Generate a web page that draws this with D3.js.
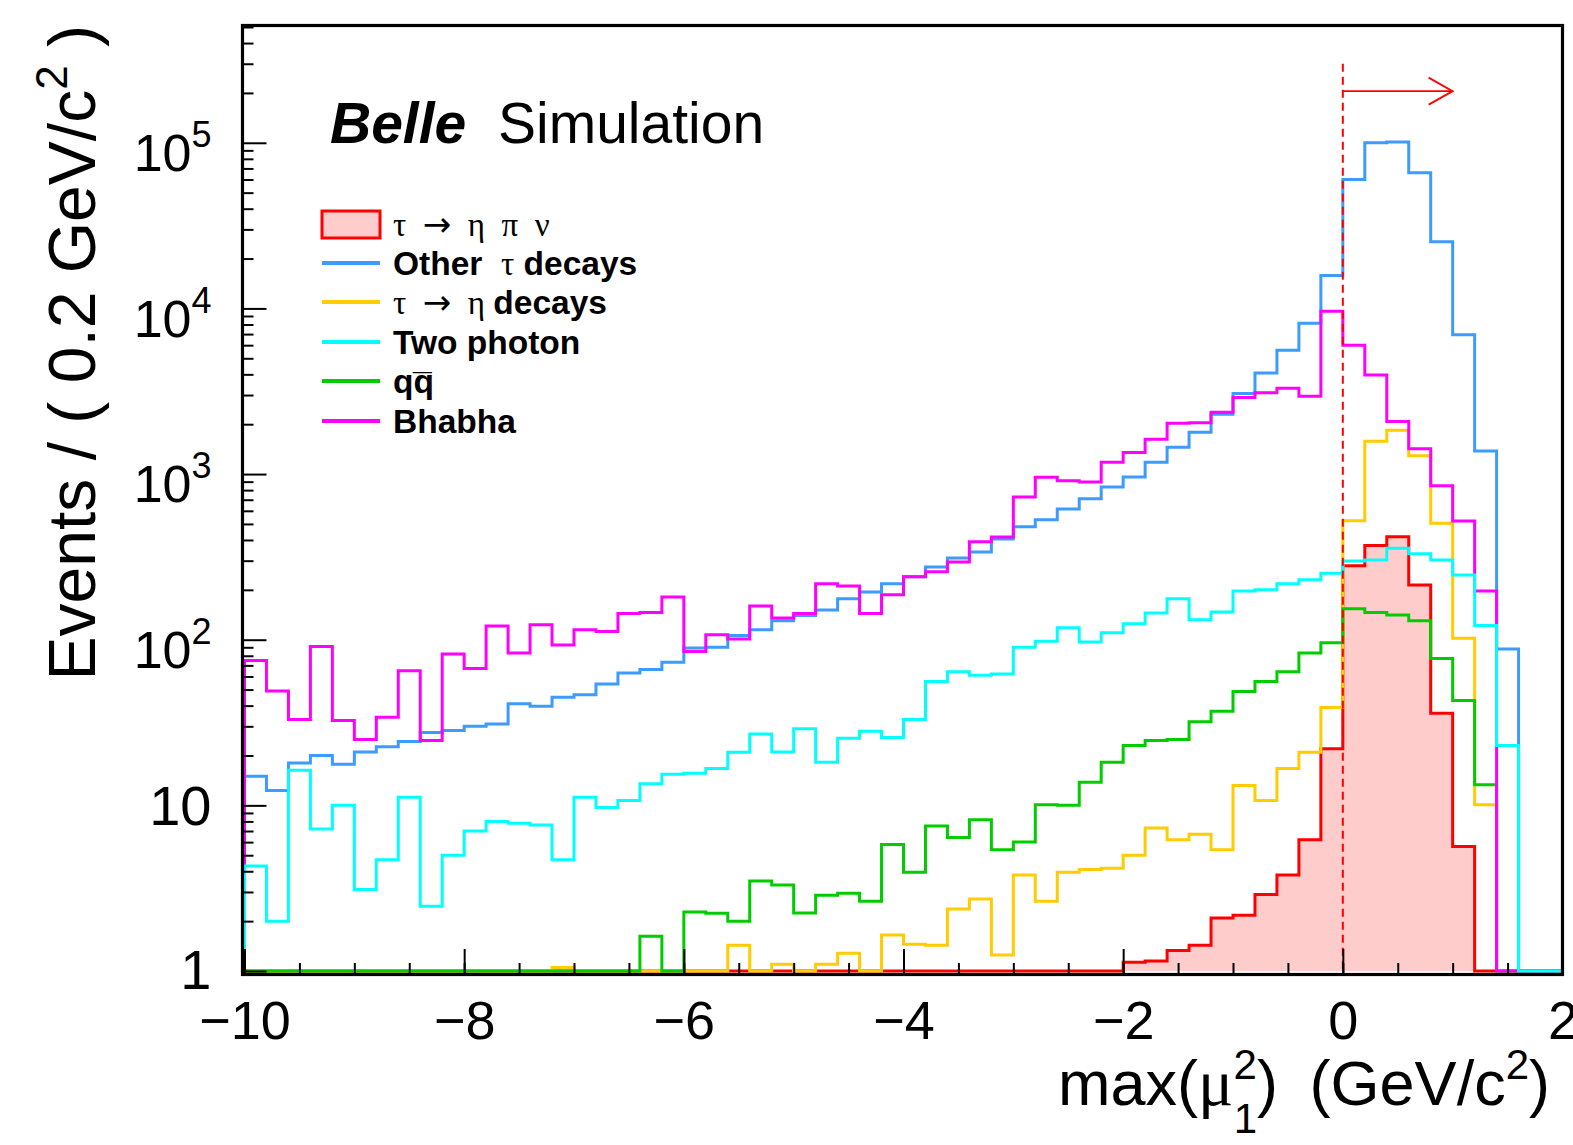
<!DOCTYPE html>
<html>
<head>
<meta charset="utf-8">
<script src="https://cdn.jsdelivr.net/npm/d3@7"></script>
<style>
body { margin: 0; background: #fff; }
svg text { font-family: "Liberation Sans", Arial, Helvetica, sans-serif; fill: #000; }
</style>
</head>
<body>
<script>
const width = 1573, height = 1145;

// histogram binning
const xMin = -10, xMax = 2, binWidth = 0.2;
const yMin = 1, yMax = 5.07e5;

// events per bin (60 bins of 0.2 GeV/c^2, from -10 to 2)
const tauEtaPiNu = [0,0,0,0,0,0,0,0,0,0, 0,0,0,0,0,0,0,0,0,0,
    0,0,0,0,0,0,0,0,0,0, 0,0,0,0,0,0,0,0,0,0,
    1.13,1.15,1.33,1.43,2.09,2.17,2.9,3.8,6.2,22,
    280,370,418,214,36,5.65,0,0,0,0];
const otherTau = [15,12.3,18,20,17.7,21,22.6,24.3,27.5,28.3,
    30,31,41,39.6,45,46.6,54,63,66,73,
    89,90,106,115,130,140,151,177,194,218,
    240,275,311,338,405,480,530,615,710,835,
    960,1180,1450,1790,2300,3070,4070,5600,8150,15800,
    60000,100000,101000,66000,25300,6940,1380,88,0,0];
const tauEtaDecays = [0,0,0,0,0,0,0,0,0,0, 0,0,0,0,1.05,0,0,0,0,0,
    0,0,1.43,1,1.1,1,1.1,1.28,1,1.65,
    1.45,1.43,2.37,2.72,1.25,3.8,2.64,3.95,4.1,4.17,
    5.0,7.3,6.2,6.7,5.4,13.2,10.7,16.7,20.9,39,
    522,1580,1840,1290,505,102,10.1,0,0,0];
const twoPhoton = [4.3,2.0,16.3,7.2,10,3.1,4.7,11.2,2.46,5.0,
    7.0,8.0,7.8,7.6,4.7,11.2,9.7,10.7,13.5,15.4,
    15.6,16.7,20.9,27,21,29,18.2,25.4,28,25.7,
    33,56,64,61,62,90,98,118,97,110,
    125,145,177,132,147,197,200,218,230,252,
    299,303,357,330,303,246,122,23,0,0];
const qqbar = [0,0,0,0,0,0,0,0,0,0, 0,0,0,0,0,0,0,0,1.62,0,
    2.27,2.23,2.0,3.5,3.3,2.24,2.87,2.95,2.64,5.8,
    3.95,7.5,6.4,8.2,5.4,6.0,10.1,10,13.8,18.2,
    23,24.6,25,32,37,48.6,56,64,83,96,
    154,146,141,130,77,43,13.3,0,0,0];
const bhabha = [75,49,33,91,32.5,25,34,65,24.6,82,
    67,121,83,123,93,115,112,144,146,181,
    85,107,101,160,135,144,218,211,144,187,
    240,257,295,390,417,727,956,911,896,1180,
    1350,1620,2030,2040,2360,2900,3100,3300,2950,9600,
    6000,3970,2080,1420,850,520,197,0,0,0];

// signal region cut
const cutValue = 0, cutTop = 3.0e5, arrowEnd = 1.0, arrowLevel = 2.05e5;

const xMajor = [-10, -8, -6, -4, -2, 0, 2];
const yMajor = [1, 10, 100, 1000, 10000, 100000];

const svg = d3.select("body")
    .append("svg")
    .attr("width", width)
    .attr("height", height);

const x = d3.scaleLinear().domain([xMin, xMax]).range([244.5, 1562.5]);
const y = d3.scaleLog().domain([yMin, yMax]).range([971, 26]);

function stepPoints(vals) {
    const pts = [[xMin, yMin]];
    vals.forEach(function (v, i) { pts.push([xMin + i * binWidth, Math.max(v, yMin)]); });
    pts.push([xMax, Math.max(vals[vals.length - 1], yMin)]);
    pts.push([xMax, yMin]);
    return pts;
}

const line = d3.line()
    .x(function (d) { return x(d[0]); })
    .y(function (d) { return y(d[1]); })
    .curve(d3.curveStepAfter);

const area = d3.area()
    .x(function (d) { return x(d[0]); })
    .y0(y(yMin))
    .y1(function (d) { return y(d[1]); })
    .curve(d3.curveStepAfter);

// signal: filled
svg.append("path")
    .attr("fill", "#ffcccc")
    .attr("stroke", "none")
    .attr("d", area(stepPoints(tauEtaPiNu)));
svg.append("path")
    .attr("fill", "none")
    .attr("stroke", "#ff0000")
    .attr("stroke-width", 3)
    .attr("d", line(stepPoints(tauEtaPiNu)));

const backgrounds = [
    {vals: otherTau, color: "#3d9bff"},
    {vals: tauEtaDecays, color: "#ffcc00"},
    {vals: qqbar, color: "#00cc00"},
    {vals: bhabha, color: "#ff00ff"},
    {vals: twoPhoton, color: "#00ffff"}
];

backgrounds.forEach(function (s) {
    svg.append("path")
        .attr("fill", "none")
        .attr("stroke", s.color)
        .attr("stroke-width", 3)
        .attr("d", line(stepPoints(s.vals)));
});

// cut line and arrow
svg.append("line")
    .attr("x1", x(cutValue)).attr("x2", x(cutValue))
    .attr("y1", y(cutTop)).attr("y2", y(yMin))
    .attr("stroke", "#ff0000")
    .attr("stroke-width", 2)
    .attr("stroke-dasharray", "8,5");
svg.append("line")
    .attr("x1", x(cutValue)).attr("x2", x(arrowEnd))
    .attr("y1", y(arrowLevel)).attr("y2", y(arrowLevel))
    .attr("stroke", "#ff0000")
    .attr("stroke-width", 1.8);
svg.append("path")
    .attr("fill", "none")
    .attr("stroke", "#ff0000")
    .attr("stroke-width", 1.8)
    .attr("d", `M${x(arrowEnd) - 24},${y(arrowLevel) - 13.5}L${x(arrowEnd)},${y(arrowLevel)}L${x(arrowEnd) - 24},${y(arrowLevel) + 13.5}`);

// frame
svg.append("rect")
    .attr("x", 242.5).attr("y", 25.5)
    .attr("width", 1320).attr("height", 949)
    .attr("fill", "none")
    .attr("stroke", "#000")
    .attr("stroke-width", 3.2);

// y axis
const yMinor = [];
for (let d = 0; d <= 5; d++) {
    for (let k = 2; k <= 9; k++) {
        const v = k * Math.pow(10, d);
        if (v < yMax) yMinor.push(v);
    }
}

svg.append("g")
    .attr("transform", "translate(242.5,0)")
    .call(d3.axisLeft(y).tickValues(yMinor).tickSize(-11).tickSizeOuter(0).tickFormat(""))
    .call(g => g.select(".domain").remove())
    .call(g => g.selectAll("line").attr("stroke-width", 2));

const yAxis = svg.append("g")
    .attr("transform", "translate(242.5,0)")
    .call(d3.axisLeft(y).tickValues(yMajor).tickSize(-24).tickSizeOuter(0).tickPadding(31).tickFormat(""));
yAxis.select(".domain").remove();
yAxis.selectAll("line").attr("stroke-width", 2);
yAxis.selectAll("text").each(function (d) {
    const t = d3.select(this)
        .attr("font-family", "Liberation Sans, Arial, sans-serif")
        .attr("fill", "#000");
    const e = Math.round(Math.log10(d));
    if (e < 2) {
        t.attr("font-size", 56).attr("y", e === 0 ? 0 : 1).text(String(d));
    } else {
        t.attr("font-size", 52).attr("y", 11);
        t.append("tspan").text("10");
        t.append("tspan").attr("font-size", 36).attr("dy", -24).text(String(e));
    }
});

// x axis
svg.append("g")
    .attr("transform", "translate(0,974)")
    .call(d3.axisBottom(x).tickValues(d3.range(xMin, xMax + 0.01, 0.5)).tickSize(-11).tickSizeOuter(0).tickFormat(""))
    .call(g => g.select(".domain").remove())
    .call(g => g.selectAll("line").attr("stroke-width", 2));

const xAxis = svg.append("g")
    .attr("transform", "translate(0,974)")
    .call(d3.axisBottom(x).tickValues(xMajor).tickSize(-25).tickSizeOuter(0).tickPadding(27).tickFormat(d3.format("d")));
xAxis.select(".domain").remove();
xAxis.selectAll("line").attr("stroke-width", 2);
xAxis.selectAll("text")
    .attr("font-size", 54)
    .attr("font-family", "Liberation Sans, Arial, sans-serif")
    .attr("fill", "#000");

// axis titles
const xTitle = svg.append("text")
    .attr("x", 1550).attr("y", 1105)
    .attr("text-anchor", "end")
    .attr("font-size", 63);
xTitle.append("tspan").text("max(");
xTitle.append("tspan").attr("font-family", "Liberation Serif, serif").attr("font-size", 66).text("μ");
xTitle.append("tspan").attr("font-size", 42).attr("dy", -26).text("2");
xTitle.append("tspan").attr("font-size", 42).attr("dx", -23).attr("dy", 54).text("1");
xTitle.append("tspan").attr("dy", -28).text(")");
xTitle.append("tspan").attr("dx", 14).text(" (GeV/c");
xTitle.append("tspan").attr("font-size", 42).attr("dy", -26).text("2");
xTitle.append("tspan").attr("dy", 26).text(")");

const yTitle = svg.append("text")
    .attr("transform", "translate(95,25) rotate(-90)")
    .attr("text-anchor", "end")
    .attr("font-size", 66)
    .style("white-space", "pre");
yTitle.append("tspan").text("Events / ( 0.2 GeV/c");
yTitle.append("tspan").attr("font-size", 44).attr("dy", -28).text("2");
yTitle.append("tspan").attr("dy", 28).text(" )");

// title
svg.append("text")
    .attr("x", 330).attr("y", 143)
    .attr("font-size", 57)
    .attr("font-weight", "bold")
    .attr("font-style", "italic")
    .text("Belle");
svg.append("text")
    .attr("x", 498).attr("y", 143)
    .attr("font-size", 57)
    .text("Simulation");

// legend
const legendY = [224, 263, 302, 342, 381, 421];
svg.append("rect")
    .attr("x", 322).attr("y", legendY[0] - 13)
    .attr("width", 58).attr("height", 27)
    .attr("fill", "#ffcccc")
    .attr("stroke", "#ff0000")
    .attr("stroke-width", 3);
const legendColors = ["#3d9bff", "#ffcc00", "#00ffff", "#00cc00", "#ff00ff"];
legendColors.forEach(function (c, i) {
    svg.append("line")
        .attr("x1", 322).attr("x2", 380)
        .attr("y1", legendY[i + 1]).attr("y2", legendY[i + 1])
        .attr("stroke", c)
        .attr("stroke-width", 4);
});

const serif = "Liberation Serif, DejaVu Serif, serif";
const arrowFont = "DejaVu Sans, sans-serif";
function legendText(i) {
    return svg.append("text")
        .attr("x", 393).attr("y", legendY[i] + 12)
        .attr("font-size", 33.5)
        .attr("font-weight", "bold")
        .style("white-space", "pre");
}
function greek(t, s) {
    t.append("tspan").attr("font-family", serif).attr("font-weight", "normal").attr("font-size", 33).text(s);
}
function arrow(t) {
    t.append("tspan").attr("font-family", arrowFont).attr("font-weight", "normal").attr("font-size", 34).text("→");
}
const l0 = legendText(0);
greek(l0, "τ  ");
arrow(l0);
greek(l0, "  η  π  ν");
const l1 = legendText(1);
l1.append("tspan").text("Other  ");
greek(l1, "τ");
l1.append("tspan").text(" decays");
const l2 = legendText(2);
greek(l2, "τ  ");
arrow(l2);
greek(l2, "  η ");
l2.append("tspan").text("decays");
legendText(3).text("Two photon");
legendText(4).text("qq\u0305");
legendText(5).text("Bhabha");
</script>
</body>
</html>
